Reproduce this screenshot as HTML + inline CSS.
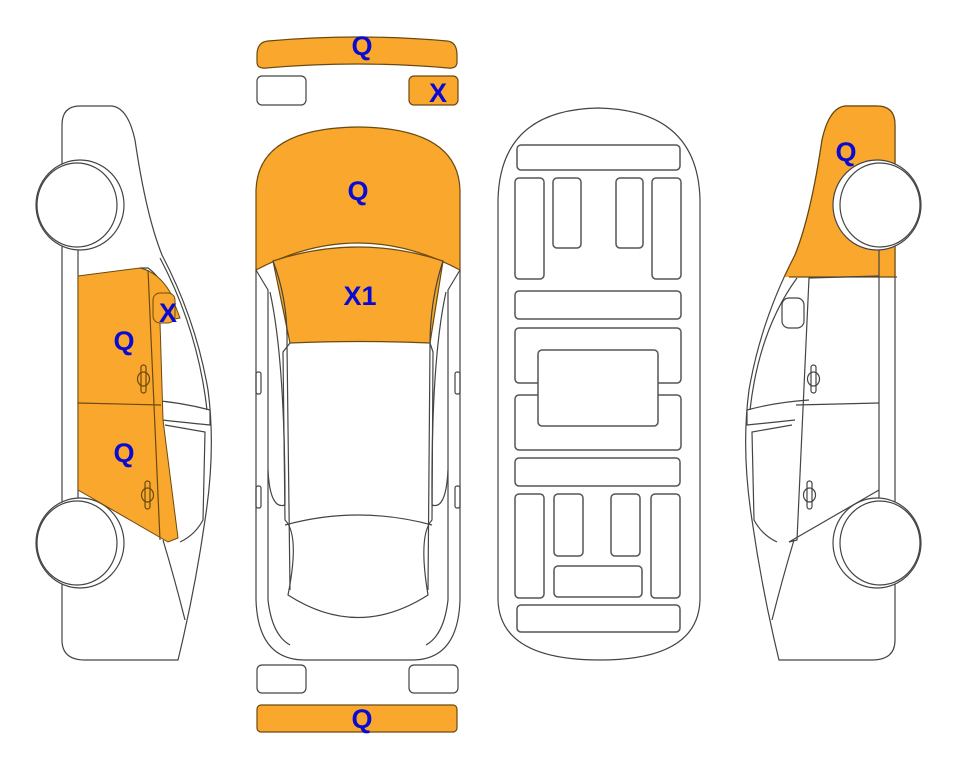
<!DOCTYPE html>
<html><head><meta charset="utf-8"><style>
html,body{margin:0;padding:0;background:#fff;}
svg{display:block;}
text{font-family:"Liberation Sans",Arial,sans-serif;font-weight:bold;fill:#0a0ad2;font-size:27px;text-anchor:middle;}
</style></head><body>
<svg width="963" height="768" viewBox="0 0 963 768" xmlns="http://www.w3.org/2000/svg">
<defs>
<path id="lbody" d="M80,106 L112,106 Q128,108 135,140 Q146,215 162,255 Q196,320 208,390 Q216,450 205,520 Q195,590 178,660 L85,660 Q62,660 62,640 L62,125 Q62,106 80,106 Z"/>
<clipPath id="rclip"><rect x="0" y="0" width="300" height="277"/></clipPath>
</defs>
<g fill="none" stroke="#444" stroke-width="1.2">

<!-- LEFT CAR -->
<g id="carL">
<use href="#lbody" fill="#fff"/>
<line x1="78" y1="248" x2="78" y2="500"/>
<line x1="92" y1="500" x2="92" y2="515"/>
<path d="M160,258 Q198,330 207,410"/>
<path d="M148,400 Q180,402 210,410 L210,425 Q180,422 162,420"/>
<path d="M165,425 L205,432 L203,520 Q195,535 180,542"/>
<path d="M163,540 Q175,580 185,620"/>
<path d="M140,268 L148,268 Q158,275 166,290"/>
<ellipse cx="80" cy="205" rx="44" ry="45" fill="#fff"/>
<ellipse cx="77" cy="205" rx="40" ry="42" fill="#fff"/>
<ellipse cx="80" cy="543" rx="44" ry="45" fill="#fff"/>
<ellipse cx="77" cy="543" rx="40" ry="42" fill="#fff"/>
</g>
<path d="M78,276 L140,268 Q158,272 170,292 L180,318 L160,322 L163,420 L178,538 L168,542 L78,490 Z" fill="#FAA82D" stroke="#6b4a10" stroke-width="1"/>
<rect x="153" y="293" width="22" height="30" rx="7" fill="#FAA82D" stroke="#6b4a10" stroke-width="1"/>
<path d="M78,403 L161,405" stroke="#6b4a10"/>
<path d="M148,270 L160,540" stroke="#6b4a10"/>
<rect x="141" y="365" width="5" height="28" rx="2.5" stroke="#6b4a10"/>
<ellipse cx="143.5" cy="379" rx="6" ry="7" stroke="#6b4a10"/>
<rect x="145" y="481" width="5" height="28" rx="2.5" stroke="#6b4a10"/>
<ellipse cx="147.5" cy="495" rx="6" ry="7" stroke="#6b4a10"/>

<!-- RIGHT CAR (mirror) -->
<g transform="translate(957,0) scale(-1,1)">
<use href="#lbody" fill="#fff"/>
<use href="#lbody" fill="#FAA82D" stroke="#6b4a10" clip-path="url(#rclip)"/>
<line x1="60" y1="277" x2="168" y2="277" stroke="#6b4a10"/>
<line x1="78" y1="248" x2="78" y2="500"/>
<path d="M160,278 Q198,330 207,410"/>
<path d="M148,400 Q180,402 210,410 L210,425 Q180,422 162,420"/>
<path d="M165,425 L205,432 L203,520 Q195,535 180,542"/>
<path d="M163,540 Q175,580 185,620"/>
<rect x="153" y="298" width="22" height="30" rx="7" fill="#fff"/>
<path d="M78,276 L148,278 L160,540 L168,542 L78,490"/>
<path d="M78,403 L161,405"/>
<rect x="141" y="365" width="5" height="28" rx="2.5"/>
<ellipse cx="143.5" cy="379" rx="6" ry="7"/>
<rect x="145" y="481" width="5" height="28" rx="2.5"/>
<ellipse cx="147.5" cy="495" rx="6" ry="7"/>
<ellipse cx="80" cy="205" rx="44" ry="45" fill="#fff"/>
<ellipse cx="77" cy="205" rx="40" ry="42" fill="#fff"/>
<ellipse cx="80" cy="543" rx="44" ry="45" fill="#fff"/>
<ellipse cx="77" cy="543" rx="40" ry="42" fill="#fff"/>
</g>

<!-- CENTER TOP VIEW -->
<path d="M257,55 Q257,42 268,41 Q358,33 447,41 Q457,42 457,55 L457,62 Q457,69 448,68 Q358,60 266,68 Q257,69 257,62 Z" fill="#FAA82D" stroke="#6b4a10"/>
<rect x="257" y="76" width="49" height="29" rx="5" fill="#fff"/>
<rect x="409" y="76" width="49" height="29" rx="5" fill="#FAA82D" stroke="#6b4a10"/>
<path d="M256,270 L256,600 Q258,660 305,660 L412,660 Q458,660 460,600 L460,270" fill="#fff"/>
<path d="M256,270 L256,190 Q258,128 358,127 Q458,128 460,190 L460,270 Q358,216 256,270 Z" fill="#FAA82D" stroke="#6b4a10"/>
<path d="M273,261 Q358,233 443,261 L430,343 Q358,340 290,343 Z" fill="#FAA82D" stroke="#6b4a10"/>
<path d="M256,270 L268,290 L268,600 Q272,635 290,645"/>
<path d="M460,270 L448,290 L448,600 Q444,635 426,645"/>
<path d="M273,261 Q288,300 287,345 L290,590"/>
<path d="M443,261 Q430,300 430,345 L428,590"/>
<path d="M290,343 L283,352 L285,520 Q300,535 288,595 Q358,640 428,595 Q418,535 432,520 L433,352 L430,343"/>
<path d="M285,525 Q358,505 432,525"/>
<path d="M270,292 Q285,360 285,505 Q270,510 268,470"/>
<path d="M446,292 Q431,360 432,505 Q446,510 448,470"/>
<rect x="256" y="372" width="5" height="22" rx="2"/>
<rect x="455" y="372" width="5" height="22" rx="2"/>
<rect x="256" y="486" width="5" height="22" rx="2"/>
<rect x="455" y="486" width="5" height="22" rx="2"/>
<rect x="257" y="665" width="49" height="28" rx="5" fill="#fff"/>
<rect x="409" y="665" width="49" height="28" rx="5" fill="#fff"/>
<rect x="257" y="705" width="200" height="27" rx="4" fill="#FAA82D" stroke="#6b4a10"/>

<!-- UNDERBODY -->
<path d="M498,200 Q500,110 598,108 Q698,110 700,200 L700,600 Q698,660 600,660 Q500,660 498,600 Z" fill="#fff"/>
<g stroke="#555" stroke-width="1.5">
<rect x="517" y="145" width="163" height="25" rx="4"/>
<rect x="515" y="178" width="29" height="101" rx="4"/>
<rect x="553" y="178" width="28" height="70" rx="4"/>
<rect x="616" y="178" width="27" height="70" rx="4"/>
<rect x="652" y="178" width="29" height="101" rx="4"/>
<rect x="515" y="291" width="166" height="28" rx="4"/>
<rect x="515" y="328" width="166" height="55" rx="4"/>
<rect x="515" y="395" width="166" height="55" rx="4"/>
<rect x="538" y="350" width="120" height="76" rx="4" fill="#fff"/>
<rect x="515" y="458" width="165" height="28" rx="4"/>
<rect x="515" y="494" width="29" height="104" rx="4"/>
<rect x="554" y="494" width="29" height="62" rx="4"/>
<rect x="611" y="494" width="29" height="62" rx="4"/>
<rect x="651" y="494" width="29" height="104" rx="4"/>
<rect x="554" y="566" width="88" height="31" rx="4"/>
<rect x="517" y="605" width="163" height="27" rx="4"/>
</g>
</g>

<text x="362" y="55">Q</text>
<text x="438" y="102">X</text>
<text x="358" y="200">Q</text>
<text x="360" y="305">X1</text>
<text x="124" y="350">Q</text>
<text x="168" y="322">X</text>
<text x="124" y="462">Q</text>
<text x="846" y="161">Q</text>
<text x="362" y="728">Q</text>
</svg>
</body></html>
